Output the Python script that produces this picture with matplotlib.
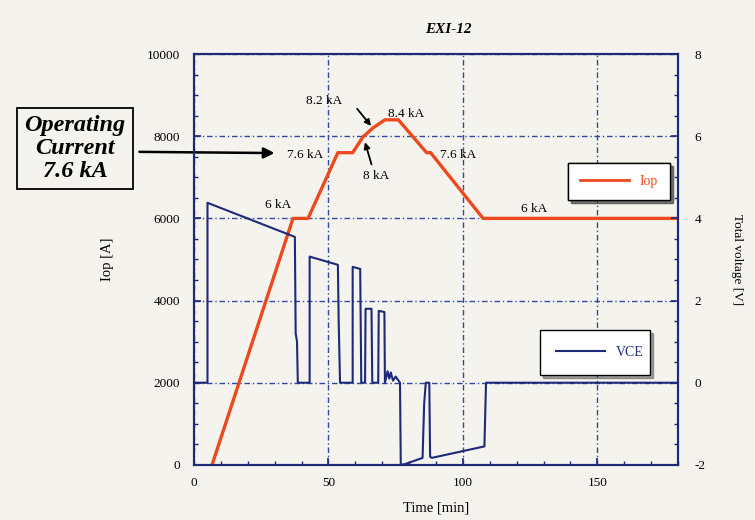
import matplotlib
matplotlib.use('Agg')
import matplotlib.pyplot as plt
from matplotlib.ticker import MultipleLocator
from matplotlib.lines import Line2D

# Iop trace [min, A]
iop_time = [6.7, 36.8, 42.4, 53.5, 59.0, 63.0, 64.0, 66.5, 71.0, 76.0, 86.5, 88.0, 107.5, 180.0]
iop_amp = [0, 6000, 6000, 7600, 7600, 8000, 8050, 8200, 8400, 8400, 7600, 7600, 6000, 6000]

# total voltage trace [min, V]
vce_time = [0.0, 5.0, 5.0, 37.5, 37.8, 38.3, 38.6, 43.0, 43.0, 53.5, 53.8, 54.3, 59.0, 59.0, 61.8, 62.2,
            63.6, 63.8, 66.0, 66.3, 68.5, 68.7, 70.8, 71.0, 72.0, 72.6, 73.2, 74.0, 75.0, 76.6, 76.9,
            78.5, 85.0, 85.6, 86.2, 87.5, 87.8, 88.4, 108.0, 108.6, 180.0]
vce_volt = [0.0, 0.0, 4.38, 3.55, 1.2, 1.0, 0.0, 0.0, 3.07, 2.87, 1.5, 0.0, 0.0, 2.82, 2.77, 0.0,
            0.0, 1.8, 1.8, 0.0, 0.0, 1.75, 1.72, 0.0, 0.28, 0.1, 0.25, 0.05, 0.15, 0.0, -2.0,
            -1.98, -1.83, -0.5, 0.0, 0.0, -1.8, -1.83, -1.55, 0.0, 0.0]

bg = '#f4f3ee'
navy = '#1e2a78'
red = '#ec4a1e'
serif = ['Liberation Serif', 'DejaVu Serif']

plt.rcParams['font.family'] = serif
plt.rcParams['axes.unicode_minus'] = False
fig = plt.figure(figsize=(7.55, 5.2), dpi=100, facecolor=bg)
ax = fig.add_axes([0.257, 0.106, 0.641, 0.790], facecolor=bg)
ax2 = ax.twinx()

ax.plot(iop_time, iop_amp, color=red, lw=2.4, zorder=3)
ax2.plot(vce_time, vce_volt, color=navy, lw=1.5)

ax.set_xlim(0, 180)
ax.set_ylim(0, 10000)
ax2.set_ylim(-2, 8)
ax.xaxis.set_major_locator(MultipleLocator(50))
ax.xaxis.set_minor_locator(MultipleLocator(10))
ax.yaxis.set_major_locator(MultipleLocator(2000))
ax.yaxis.set_minor_locator(MultipleLocator(500))
ax2.yaxis.set_major_locator(MultipleLocator(2))
ax2.yaxis.set_minor_locator(MultipleLocator(0.5))

for a in (ax, ax2):
    for s in a.spines.values():
        s.set_color(navy)
        s.set_linewidth(1.5)
    a.tick_params(which='both', direction='in', color=navy, labelsize=9.5)
    a.tick_params(which='major', length=5, width=1.2)
    a.tick_params(which='minor', length=3, width=1.0)
ax.tick_params(top=False, right=False)
ax.tick_params(axis='y', pad=10)
ax.tick_params(axis='x', pad=9)
ax2.tick_params(axis='y', pad=12)

ax.grid(True, which='major', color='#3548a0', lw=1.0, linestyle=(0, (4, 2, 1, 2)))
ax.set_axisbelow(True)

ax.set_xlabel('Time [min]', fontsize=10.5, labelpad=9)
ax.set_ylabel('Iop [A]', fontsize=10.5, labelpad=24)
ax2.set_ylabel('Total voltage [V]', fontsize=9.5, rotation=270, labelpad=27)
ax.set_title('EXI-12', fontsize=11, fontweight='bold', style='italic', pad=15, x=0.525)

# legends
leg1 = ax.legend([Line2D([], [], color=red, lw=2)], ['Iop'], loc='lower left',
                 bbox_to_anchor=(0.773, 0.645, 0.21, 0.09), mode='expand', fancybox=False,
                 shadow=True, framealpha=1, edgecolor='black', handlelength=3.5, fontsize=10,
                 borderaxespad=0, borderpad=0.85)
for t in leg1.get_texts():
    t.set_color(red)
ax.add_artist(leg1)
leg2 = ax2.legend([Line2D([], [], color=navy, lw=1.5)], ['VCE'], loc='lower left',
                  bbox_to_anchor=(0.715, 0.219, 0.227, 0.11), mode='expand', fancybox=False,
                  shadow=True, framealpha=1, edgecolor='black', handlelength=3.5, fontsize=10,
                  borderaxespad=0, borderpad=1.15)
for t in leg2.get_texts():
    t.set_color(navy)

# level labels
fs = 9.5
ax.text(26.5, 6250, '6 kA', fontsize=fs)
ax.text(34.5, 7480, '7.6 kA', fontsize=fs)
ax.text(41.5, 8780, '8.2 kA', fontsize=fs)
ax.text(72.0, 8470, '8.4 kA', fontsize=fs)
ax.text(63.0, 6950, '8 kA', fontsize=fs)
ax.text(91.5, 7480, '7.6 kA', fontsize=fs)
ax.text(121.5, 6150, '6 kA', fontsize=fs)
ax.annotate('', xy=(66.5, 8200), xytext=(60.0, 8720),
            arrowprops=dict(arrowstyle='-|>', color='black', lw=1.3, mutation_scale=9))
ax.annotate('', xy=(63.3, 7920), xytext=(66.3, 7250),
            arrowprops=dict(arrowstyle='-|>', color='black', lw=1.3, mutation_scale=9))

# operating current box
fig.text(0.0993, 0.714, 'Operating\nCurrent\n7.6 kA', ha='center', va='center', fontsize=17.5,
         fontweight='bold', style='italic', linespacing=1.12,
         bbox=dict(boxstyle='square,pad=0.3', facecolor=bg, edgecolor='black', lw=1.3))
ax.annotate('', xy=(31.0, 7590), xycoords='data', xytext=(0.181, 0.708), textcoords='figure fraction',
            arrowprops=dict(arrowstyle='-|>', color='black', lw=1.8, mutation_scale=16),
            annotation_clip=False)

fig.savefig('out.png', dpi=100, facecolor=bg)
